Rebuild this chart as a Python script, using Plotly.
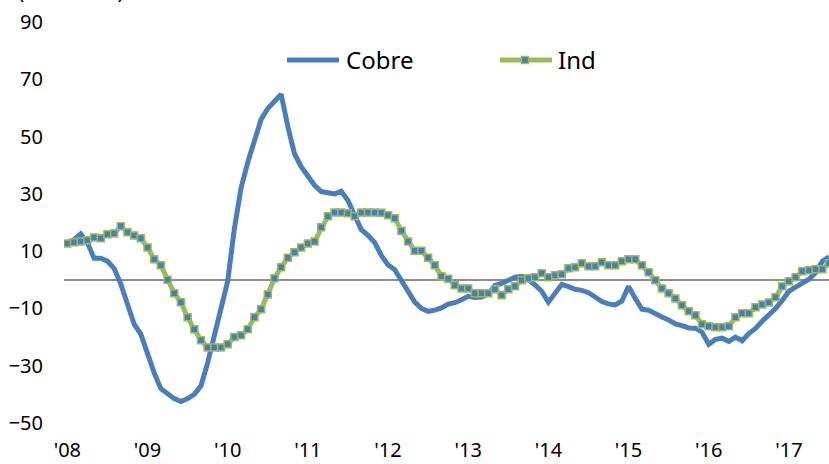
import plotly.graph_objects as go

years = ["'08", "'09", "'10", "'11", "'12", "'13", "'14", "'15", "'16", "'17"]
months = [f"{2008 + i // 12}-{i % 12 + 1:02d}" for i in range(115)]

cobre = [13, 14, 16, 13, 7.5, 7.5, 6.5, 4, -1.5, -8.6, -15.5, -19,
         -26, -32.5, -38, -40, -41.5, -42.5, -41.5, -40, -37, -29, -19.5, -10.5,
         -0.5, 17.8, 32, 41, 48.5, 56, 59.8, 62.5, 64.8, 53.5, 44, 39.5,
         36.5, 33, 30.8, 30.3, 30, 30.9, 27.7, 22.5, 17.5, 15.5, 13, 8.5,
         5.2, 3.5, -0.5, -4.5, -7.8, -10, -11, -10.6, -9.8, -8.5, -8, -7,
         -5.8, -6.2, -6, -5, -2, -1.3, 0, 0.9, 1.2, 0, -1.8, -4,
         -7.8, -5, -1.6, -2.4, -3.3, -3.7, -4.5, -6, -7.6, -8.4, -8.8, -7.4,
         -2.3, -6.5, -10.3, -10.6, -12, -13, -14, -15.4, -16, -16.8, -16.9, -18.3,
         -22.5, -20.8, -20.4, -21.5, -20, -21.3, -18.8, -17, -14.5, -12.5, -10, -7.2,
         -4, -2.6, -1.2, 0.2, 2.5, 6.5, 8]

ind = [12.7, 13.1, 13.4, 13.8, 14.8, 14.5, 15.9, 16.2, 18.7, 16.6, 15.5, 14.5,
       11.3, 7.2, 5.1, 0, -4.7, -7.8, -13.1, -17.3, -21.1, -23.6, -23.6, -23.6,
       -22.5, -20, -19.4, -17.3, -13.1, -10.3, -5.1, 0.5, 4.4, 7.7, 9.6, 11.3,
       12.7, 13.4, 18.3, 22.2, 23.5, 23.5, 23.2, 22.2, 23.5, 23.5, 23.5, 23.4,
       22.5, 21.5, 17.1, 13.4, 10.1, 10.1, 7.7, 5.1, 1.2, 0.4, -1.9, -3.0,
       -3.0, -4.7, -4.7, -4.7, -3.3, -5.4, -3.3, -2.3, -0.2, 0.5, 0.9, 2.3,
       0.9, 1.6, 1.9, 4.0, 4.4, 5.8, 4.7, 4.7, 6.1, 5.1, 5.1, 6.5,
       7.2, 7.2, 5.1, 2.6, -0.2, -3.0, -4.7, -6.5, -8.9, -11.0, -12.4, -15.5,
       -16.2, -16.6, -16.6, -16.2, -13.1, -11.7, -11.7, -9.6, -8.6, -7.9, -6.1, -2.3,
       -0.5, 0.9, 3.0, 3.3, 3.7, 3.7, 5.8]

y_ticks = [-50, -30, -10, 10, 30, 50, 70, 90]

BLUE = "#4A7EBB"
GREEN = "#9BBB59"
FONT = "Noto Sans"

fig = go.Figure()
fig.add_trace(go.Scatter(x=months, y=cobre, mode="lines", name="Cobre",
                         line=dict(color=BLUE, width=5), showlegend=False))
fig.add_trace(go.Scatter(x=months, y=ind, mode="lines+markers", name="Ind",
                         line=dict(color=GREEN, width=5),
                         marker=dict(symbol="square", size=7, color=BLUE,
                                     line=dict(color=GREEN, width=1.5)),
                         showlegend=False))

L, T, B = 64, 22, 41
W, H = 829, 464
pw, ph = W - L, H - T - B


def px(x):
    return (x - L) / pw


def py(y):
    return (H - B - y) / ph


shapes = [
    dict(type="line", xref="paper", yref="paper", x0=px(287), x1=px(339), y0=py(60), y1=py(60),
         line=dict(color=BLUE, width=5)),
    dict(type="line", xref="paper", yref="paper", x0=px(500), x1=px(552), y0=py(60), y1=py(60),
         line=dict(color=GREEN, width=5)),
    dict(type="rect", xref="paper", yref="paper", x0=px(521.5), x1=px(528.5), y0=py(63.5), y1=py(56.5),
         fillcolor=BLUE, line=dict(color=GREEN, width=1.5)),
]
annotations = [
    dict(xref="paper", yref="paper", x=px(344), y=py(59), text="Cobre", showarrow=False,
         xanchor="left", yanchor="middle", font=dict(family=FONT, size=24, color="black")),
    dict(xref="paper", yref="paper", x=px(556), y=py(59), text="Ind", showarrow=False,
         xanchor="left", yanchor="middle", font=dict(family=FONT, size=24, color="black")),
    dict(xref="paper", yref="paper", x=px(16), y=py(-9), text="(var. % a/a)", showarrow=False,
         xanchor="left", yanchor="middle", font=dict(family=FONT, size=21, color="black")),
]

fig.update_layout(
    width=W, height=H,
    margin=dict(l=L, r=0, t=T, b=B, autoexpand=False),
    paper_bgcolor="white", plot_bgcolor="white",
    font=dict(family=FONT, size=20, color="black"),
    shapes=shapes, annotations=annotations,
    showlegend=False,
)
fig.update_xaxes(type="category", range=[-0.5, 114.0], showgrid=False, showline=False,
                 zeroline=False, ticks="", tickvals=[months[i * 12] for i in range(len(years))],
                 ticktext=years, ticklabelstandoff=13, tickangle=0)
fig.update_yaxes(range=[-50, 90], tickvals=y_ticks, showgrid=False, showline=False,
                 zeroline=True, zerolinecolor="#8C8C8C", zerolinewidth=1.5,
                 ticks="", ticklabelstandoff=20)

fig.write_html("out.html", config={"displayModeBar": False},
               post_script="document.body.style.margin='0';document.body.style.overflow='hidden';")
